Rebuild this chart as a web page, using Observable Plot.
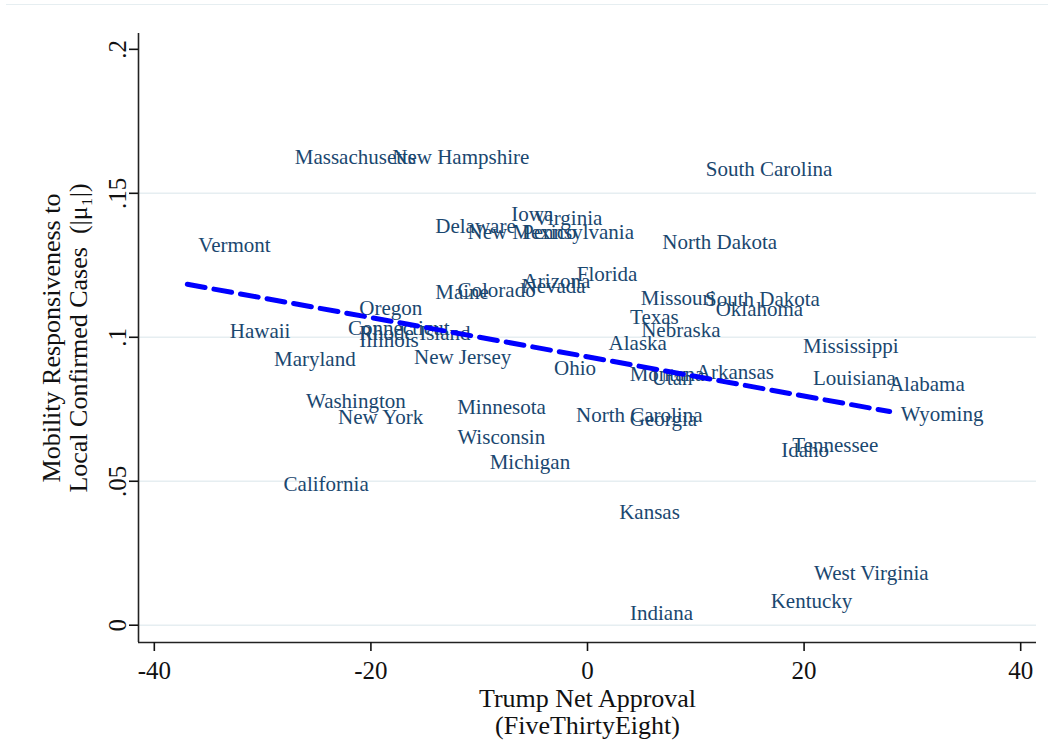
<!DOCTYPE html>
<html>
<head>
<meta charset="utf-8">
<script src="https://cdn.jsdelivr.net/npm/d3@7"></script>
<script src="https://cdn.jsdelivr.net/npm/@observablehq/plot@0.6"></script>
<style>
  html, body { margin: 0; padding: 0; background: #fff; }
  #wrap { position: relative; width: 1049px; height: 740px; overflow: hidden; }
  #topline { position: absolute; top: 4px; left: 6px; width: 1042px; height: 0; border-top: 1.5px solid #e6eef1; }
</style>
</head>
<body>
<div id="wrap"><div id="topline"></div></div>
<script>
const states = ["Massachusetts","New Hampshire","South Carolina","Vermont","Iowa","Virginia","Delaware","New Mexico","Pennsylvania","North Dakota",
  "Florida","Arizona","Nevada","Maine","Colorado","Missouri","South Dakota","Oklahoma","Oregon","Texas",
  "Hawaii","Connecticut","Rhode Island","Illinois","Nebraska","Alaska","Mississippi","Maryland","New Jersey","Ohio",
  "Montana","Utah","Arkansas","Louisiana","Alabama","Washington","New York","Minnesota","North Carolina","Georgia",
  "Wyoming","Wisconsin","Tennessee","Idaho","Michigan","California","Kansas","West Virginia","Kentucky","Indiana"];
const approval = [-28.05,-19.04,9.90,-36.95,-8.05,-5.96,-15.07,-12.10,-7.06,5.89,
  -2.01,-7.00,-7.11,-15.07,-13.02,3.90,9.83,10.82,-22.09,2.91,
  -34.05,-23.13,-22.11,-22.09,3.94,0.93,18.88,-29.96,-17.04,-4.11,
  2.88,4.91,8.98,19.81,26.82,-27.01,-24.05,-13.05,-2.08,2.89,
  27.90,-13.03,17.89,16.88,-10.05,-29.08,1.91,19.90,15.90,2.91];
const responsiveness = [0.1626,0.1626,0.1585,0.1318,0.1428,0.1415,0.1384,0.1363,0.1366,0.1329,
  0.1219,0.1196,0.1176,0.1158,0.1164,0.1137,0.1131,0.1099,0.1100,0.1069,
  0.1022,0.1033,0.1015,0.0991,0.1026,0.0978,0.0969,0.0923,0.0932,0.0892,
  0.0870,0.0856,0.0880,0.0857,0.0837,0.0778,0.0721,0.0758,0.0728,0.0715,
  0.0733,0.0652,0.0625,0.0607,0.0565,0.0490,0.0391,0.0180,0.0083,0.0040];
const fitX = [-36.95, 27.90];
const fitY = [0.1184, 0.0742];
const xTicks = [-40, -20, 0, 20, 40];
const yTicks = [0, 0.05, 0.1, 0.15, 0.2];
const gridY = [0, 0.05, 0.1, 0.15];
const xTitle = "Trump Net Approval\n(FiveThirtyEight)";
const yTitle = "Mobility Responsiveness to\nLocal Confirmed Cases\u00a0 (|\u03bc\u2081|)";

const xDomain = [-41.46, 41.46];
const yDomain = [-0.006, 0.2055];

const rows = states.map((s, i) => ({state: s, x: approval[i], y: responsiveness[i]}));
const fit = fitX.map((x, i) => ({x, y: fitY[i]}));
const fmtX = d => String(d);
const fmtY = d => d === 0 ? "0" : String(d).replace(/^0/, "");

const chart = Plot.plot({
  width: 1049,
  height: 740,
  marginLeft: 138,
  marginRight: 13,
  marginTop: 33,
  marginBottom: 98,
  style: {background: "white", fontFamily: "'Liberation Serif', 'Times New Roman', serif"},
  x: {domain: xDomain},
  y: {domain: yDomain},
  marks: [
    Plot.ruleY(gridY, {stroke: "#e6eef1", strokeWidth: 1.6}),
    Plot.ruleX([xDomain[0]], {stroke: "#222", strokeWidth: 1.6}),
    Plot.ruleY([yDomain[0]], {stroke: "#222", strokeWidth: 1.6}),
    Plot.axisX({ticks: xTicks, tickSize: 9, tickPadding: 10, tickFormat: fmtX, fontSize: 25, label: null, color: "#111", strokeWidth: 1.6}),
    Plot.axisY({ticks: yTicks, tickSize: 9, tickPadding: 4, tickRotate: -90, tickFormat: fmtY, fontSize: 25, label: null, color: "#111", strokeWidth: 1.6}),
    Plot.text([xTitle], {frameAnchor: "bottom", dy: 69, fontSize: 26, lineHeight: 1.04, lineAnchor: "middle", textAnchor: "middle", fill: "#111"}),
    Plot.text([yTitle], {frameAnchor: "left", dx: -74, rotate: -90, fontSize: 26, lineHeight: 1.07, lineAnchor: "middle", textAnchor: "middle", fill: "#111"}),
    Plot.text(rows, {x: "x", y: "y", text: "state", textAnchor: "start", lineAnchor: "middle", dx: 11, fontSize: 21, fill: "#1a476f"}),
    Plot.line(fit, {x: "x", y: "y", stroke: "#0000ff", strokeWidth: 5, strokeDasharray: "18,9"})
  ]
});
document.getElementById("wrap").appendChild(chart);
</script>
</body>
</html>
